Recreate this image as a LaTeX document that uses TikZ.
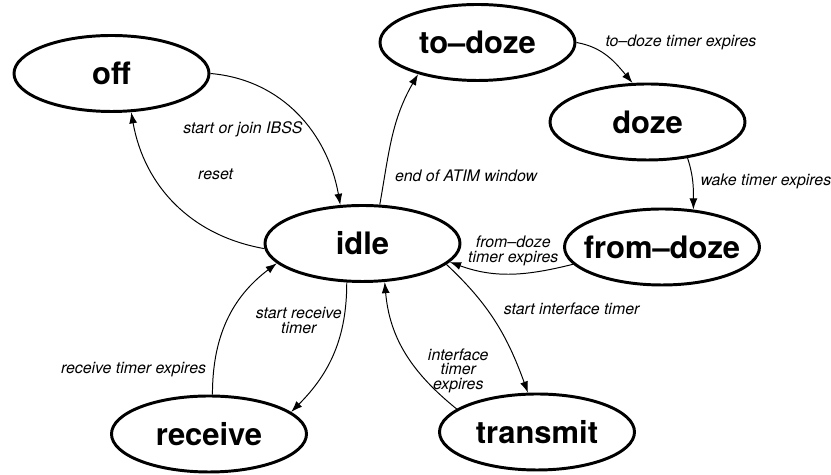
\documentclass[tikz,border=0pt]{standalone}
\usepackage{fontspec}
\setmainfont{TeX Gyre Heros}
\usetikzlibrary{arrows.meta,automata,positioning,shapes.geometric}

\begin{document}
\begin{tikzpicture}[>={Latex[length=2.8mm,width=2mm]}, on grid]
    \tikzstyle{every state}=[ellipse, draw, line width=2.1pt, minimum width=4.875cm, minimum height=1.9cm, inner xsep=-0.5cm, inner ysep=0pt, font=\fontsize{22}{24}\selectfont\bfseries]
    \tikzstyle{lbl}=[font=\fontsize{11.3}{10.4}\selectfont\itshape, inner sep=1pt, align=center]

    \useasboundingbox (0,0) rectangle (20.775,11.875);

    \node[state] (idle) at (9.0625,5.7875)                          {idle};
    \node[state] (off)      [above left=4.25cm and 6.275cm of idle]  {off};
    \node[state] (todoze)   [above right=5.025cm and 2.875cm of idle] {to–doze};
    \node[state] (doze)     [below right=1.9875cm and 4.25cm of todoze] {doze};
    \node[state] (fromdoze) [below right=3.125cm and 0.3625cm of doze] {from–doze};
    \node[state] (receive)  [below left=4.7625cm and 3.8375cm of idle] {receive};
    \node[state] (transmit) [below right=4.7125cm and 4.3625cm of idle] {transmit};

    \path[->, line width=0.7pt]
    (off.east) edge [out=-5, in=100] node[lbl, pos=0.6, anchor=east, xshift=-0.14cm] {start or join IBSS} (idle.120)
    (idle.183) edge [out=170, in=280] node[lbl, pos=0.45, xshift=0.84cm, yshift=0.89cm] {reset} (off.297)
    (idle.66) edge [out=80, in=240] node[lbl, pos=0.2, anchor=west, xshift=0.21cm] {end of ATIM window} (todoze.208)
    (todoze.east) edge [out=-10, in=130] node[lbl, pos=0.3, anchor=west, xshift=0.165cm, yshift=0.165cm] {to–doze timer expires} (doze.111)
    (doze.318) edge [out=288, in=90] node[lbl, pos=0.5, anchor=west, xshift=0.145cm, yshift=0.05cm] {wake timer expires} (fromdoze.50)
    (fromdoze.191) edge [out=194, in=340] node[lbl, pos=0.5, anchor=south, xshift=0.06cm, yshift=0.15cm] {from–doze\\timer expires} (idle.348)
    (receive.85) edge [out=90, in=217] node[lbl, pos=0.15, anchor=east, xshift=-0.145cm] {receive timer expires} (idle.193)
    (idle.248) edge [out=270, in=45] node[lbl, pos=0.25, anchor=east] {start receive\\timer} (receive.15)
    (transmit.164) edge [out=141, in=275] node[lbl, pos=0.35, anchor=west, xshift=0.205cm] {interface\\timer\\expires} (idle.300)
    (idle.346) edge [out=-43, in=110] node[lbl, pos=0.38, anchor=west, xshift=0.39cm] {start interface timer} (transmit.103);
\end{tikzpicture}
\end{document}
